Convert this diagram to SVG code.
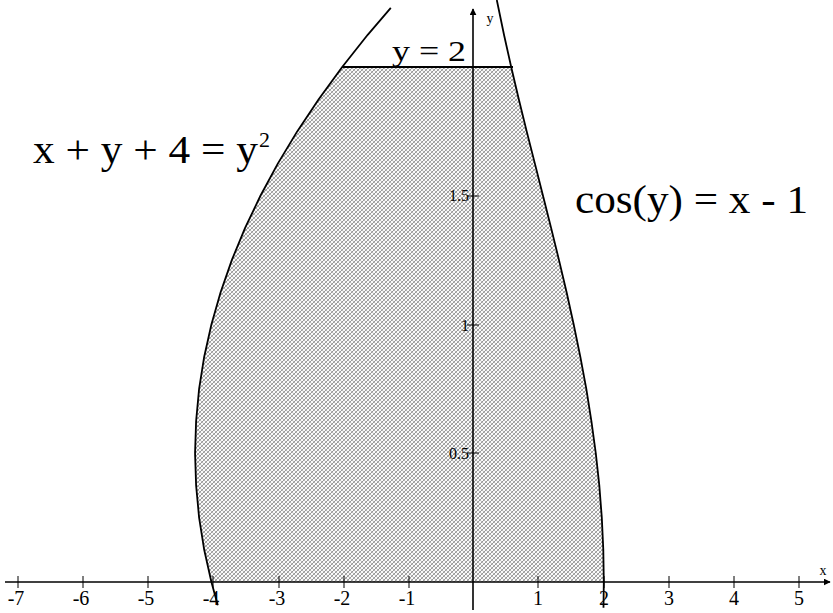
<svg xmlns="http://www.w3.org/2000/svg" width="833" height="613" viewBox="0 0 833 613">
<style>
.curve{fill:none;stroke:#000;stroke-width:1.8;stroke-linejoin:round}
.axis{fill:none;stroke:#000;stroke-width:1.6}
.tick{stroke:#000;stroke-width:1}
text{font-family:'Liberation Serif',serif;fill:#000}
.tl{font-size:20px;text-anchor:middle}
.yl{font-size:16px;text-anchor:end}
</style>
<defs>
<pattern id="hatch" width="4" height="4" patternUnits="userSpaceOnUse">
<rect width="4" height="4" fill="#fafafa"/>
<path d="M0,4 L4,0 M-1,1 L1,-1 M3,5 L5,3" stroke="#555" stroke-width="0.6"/>
<path d="M0,0 L4,4 M-1,3 L1,5 M3,-1 L5,1" stroke="#777" stroke-width="0.5"/>
</pattern>
<marker id="arr" viewBox="0 0 10 10" refX="9" refY="5" markerWidth="7" markerHeight="7" orient="auto" markerUnits="userSpaceOnUse">
<path d="M0,0 L10,5 L0,10 Z" fill="#000"/>
</marker>
</defs>
<g id="region">
<polygon fill="url(#hatch)" points="211.4,582 204.2,549.8 199.1,517.6 196.1,485.4 195.05,453.25 196.1,421.1 199.1,388.9 204.2,356.7 211.4,324.5 220.6,292.3 231.8,260.1 245.1,227.9 260.45,195.75 277.8,163.6 297.2,131.4 318.7,99.2 342.2,67 511.2,67 518.8,99.2 526.7,131.4 534.9,163.6 543,195.75 551.1,227.9 559,260.1 566.6,292.3 573.7,324.5 580.3,356.7 586.3,388.9 591.4,421.1 595.8,453.25 599.3,485.4 601.8,517.6 603.3,549.8 603.8,582"/>
</g>
<g id="axes">
<line class="axis" x1="5" y1="582" x2="830" y2="582" marker-end="url(#arr)"/>
<line class="axis" x1="473" y1="610" x2="473" y2="9" marker-end="url(#arr)"/>
<g class="tick">
<line x1="18" y1="576" x2="18" y2="588"/>
<line x1="83" y1="576" x2="83" y2="588"/>
<line x1="148" y1="576" x2="148" y2="588"/>
<line x1="213" y1="576" x2="213" y2="588"/>
<line x1="279" y1="576" x2="279" y2="588"/>
<line x1="344" y1="576" x2="344" y2="588"/>
<line x1="409" y1="576" x2="409" y2="588"/>
<line x1="538" y1="576" x2="538" y2="588"/>
<line x1="604" y1="576" x2="604" y2="588"/>
<line x1="669" y1="576" x2="669" y2="588"/>
<line x1="734" y1="576" x2="734" y2="588"/>
<line x1="799" y1="576" x2="799" y2="588"/>
<line x1="467" y1="453" x2="479" y2="453"/>
<line x1="467" y1="325" x2="479" y2="325"/>
<line x1="467" y1="196" x2="479" y2="196"/>
<line x1="467" y1="67" x2="479" y2="67"/>
</g>
<text class="tl" x="16" y="605">-7</text>
<text class="tl" x="81" y="605">-6</text>
<text class="tl" x="146" y="605">-5</text>
<text class="tl" x="211" y="605">-4</text>
<text class="tl" x="277" y="605">-3</text>
<text class="tl" x="342" y="605">-2</text>
<text class="tl" x="407" y="605">-1</text>
<text class="tl" x="538" y="605">1</text>
<text class="tl" x="604" y="605">2</text>
<text class="tl" x="669" y="605">3</text>
<text class="tl" x="734" y="605">4</text>
<text class="tl" x="799" y="605">5</text>
<text class="yl" x="469" y="201">1.5</text>
<text class="yl" x="469" y="331">1</text>
<text class="yl" x="469" y="459">0.5</text>
<text x="823" y="575" font-size="14" text-anchor="middle">x</text>
<text x="490" y="23" font-size="14" text-anchor="middle">y</text>
</g>
<g id="curves">
<polyline id="parabola" class="curve" points="217.8,605.2 211.4,582 204.2,549.8 199.1,517.6 196.1,485.4 195.05,453.25 196.1,421.1 199.1,388.9 204.2,356.7 211.4,324.5 220.6,292.3 231.8,260.1 245.1,227.9 260.45,195.75 277.8,163.6 297.2,131.4 318.7,99.2 342.2,67 367.7,34.8 390.8,7.8"/>
<polyline id="cosine" class="curve" points="603.5,607.75 603.8,582 603.3,549.8 601.8,517.6 599.3,485.4 595.8,453.25 591.4,421.1 586.3,388.9 580.3,356.7 573.7,324.5 566.6,292.3 559,260.1 551.1,227.9 543,195.75 534.9,163.6 526.7,131.4 518.8,99.2 511.2,67 504,34.8 496.8,0"/>
<line id="top" class="curve" x1="342.2" y1="67" x2="513" y2="67" stroke-width="2.2"/>
</g>
<g id="labels">
<text x="392" y="61" font-size="30" textLength="74" lengthAdjust="spacingAndGlyphs">y = 2</text>
<text x="33" y="163" font-size="40" textLength="225" lengthAdjust="spacingAndGlyphs">x + y + 4 = y</text>
<text x="259" y="147" font-size="22">2</text>
<text x="575" y="213" font-size="40" textLength="233" lengthAdjust="spacingAndGlyphs">cos(y) = x - 1</text>
</g>
</svg>
